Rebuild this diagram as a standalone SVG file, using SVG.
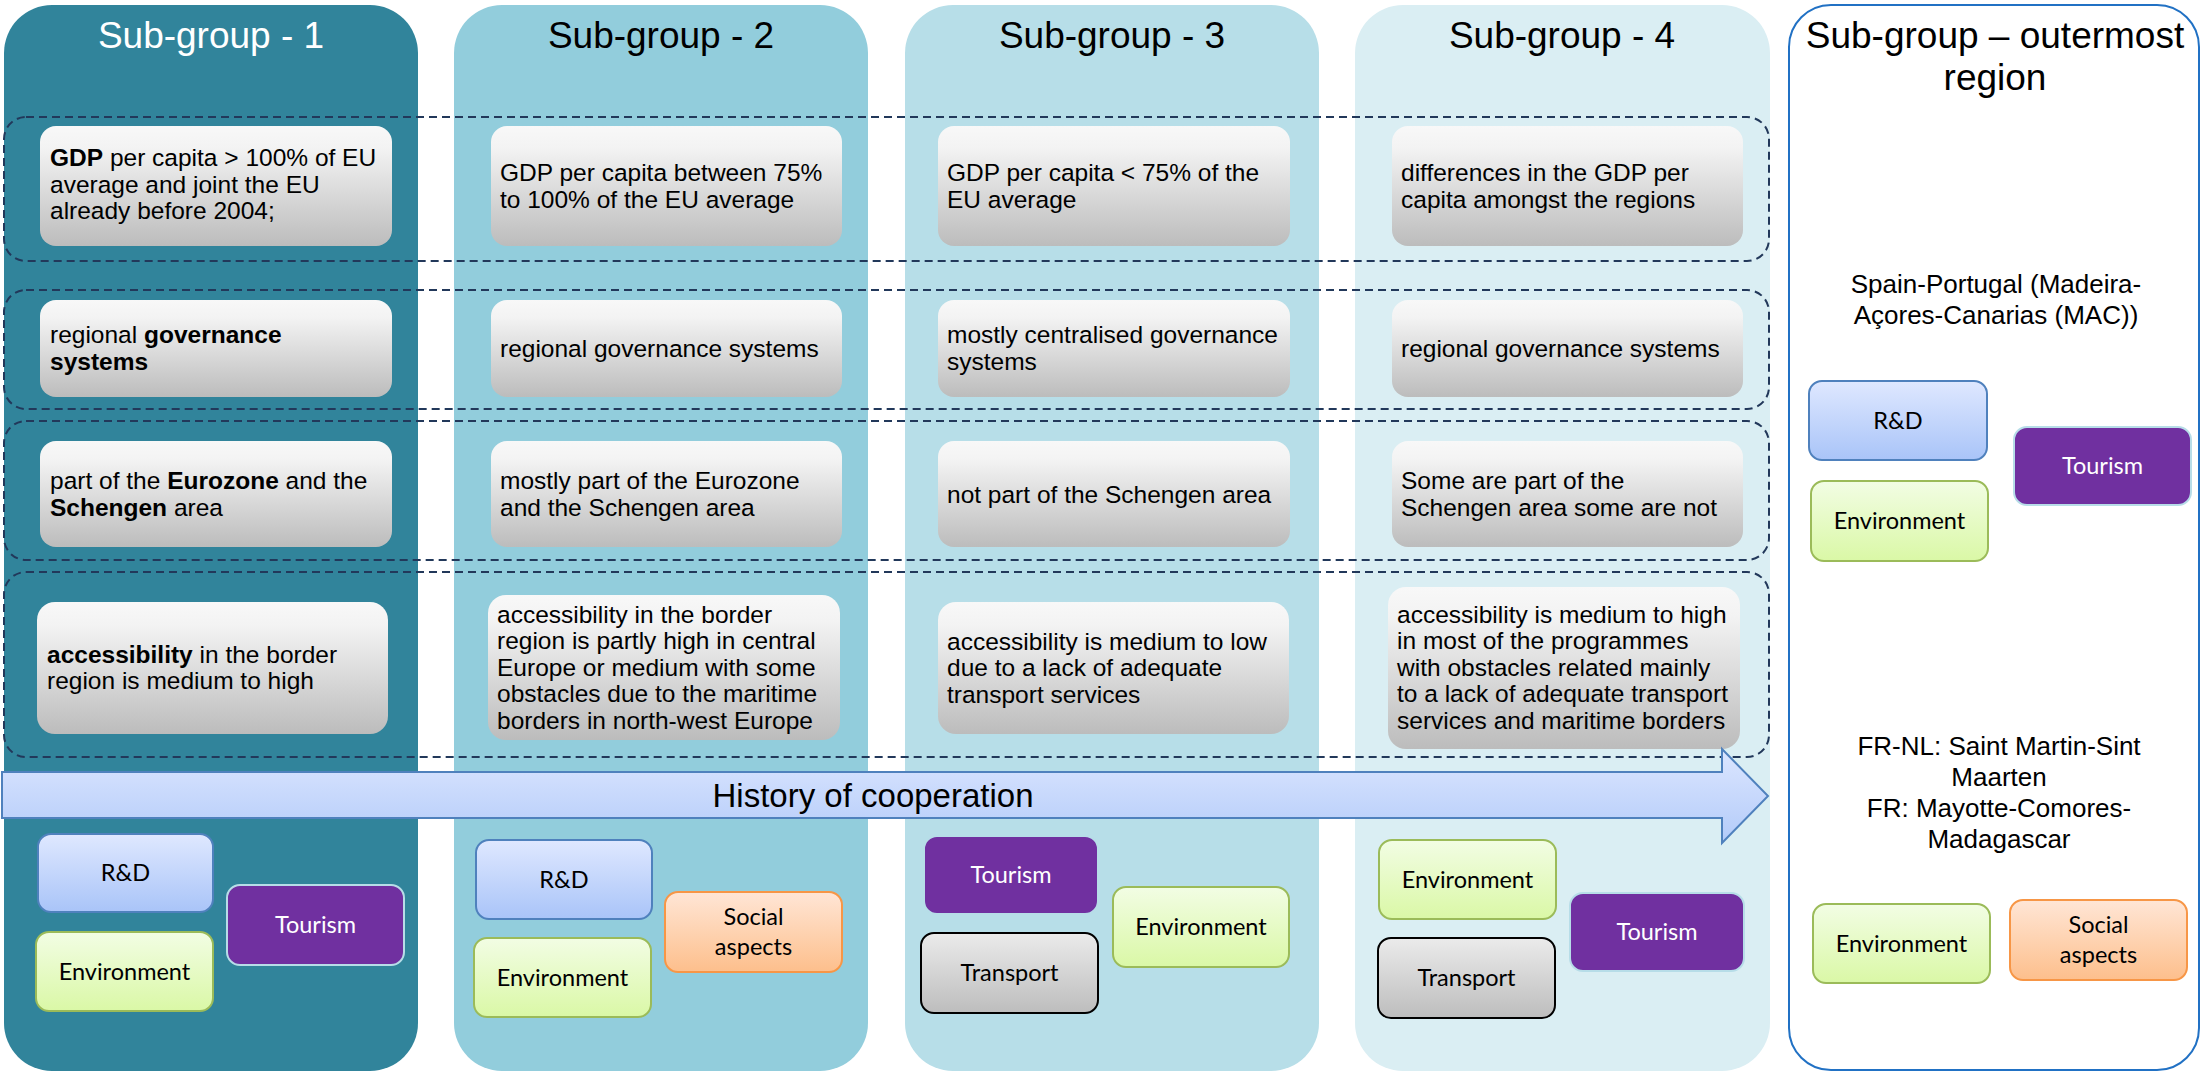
<svg xmlns="http://www.w3.org/2000/svg" width="2201" height="1072" viewBox="0 0 2201 1072">
  <defs>
    <linearGradient id="gGrey" x1="0" y1="0" x2="0" y2="1">
      <stop offset="0" stop-color="#f8f8f8"/>
      <stop offset="0.18" stop-color="#f3f3f3"/>
      <stop offset="1" stop-color="#bcbcbc"/>
    </linearGradient>
    <linearGradient id="gBlue" x1="0" y1="0" x2="0" y2="1">
      <stop offset="0" stop-color="#dfe8ff"/>
      <stop offset="1" stop-color="#a9c4f8"/>
    </linearGradient>
    <linearGradient id="gGreen" x1="0" y1="0" x2="0" y2="1">
      <stop offset="0" stop-color="#f2fde4"/>
      <stop offset="1" stop-color="#daf8a6"/>
    </linearGradient>
    <linearGradient id="gOrange" x1="0" y1="0" x2="0" y2="1">
      <stop offset="0" stop-color="#ffe6d6"/>
      <stop offset="1" stop-color="#fdbf8c"/>
    </linearGradient>
    <linearGradient id="gSilver" x1="0" y1="0" x2="0" y2="1">
      <stop offset="0" stop-color="#ebebeb"/>
      <stop offset="1" stop-color="#bdbdbd"/>
    </linearGradient>
    <linearGradient id="gArrow" x1="0" y1="0" x2="0" y2="1">
      <stop offset="0" stop-color="#dce6ff"/>
      <stop offset="1" stop-color="#b3cbf9"/>
    </linearGradient>
    <style>
      .title { font-family: "Liberation Sans", Arial, sans-serif; font-size: 37px; text-anchor: middle; fill: #000; }
      .title.light { fill: #ffffff; }
      .otitle { font-family: "Liberation Sans", Arial, sans-serif; font-size: 37px; text-anchor: middle; fill: #000; }
      .rowband { fill: none; stroke: #22385a; stroke-width: 2; stroke-dasharray: 8 5; }
      .card { fill: url(#gGrey); }
      .ctext { font-family: "Liberation Sans", Arial, sans-serif; font-size: 24.5px; fill: #000; }
      .b { font-weight: bold; }
      .otext { font-family: "Liberation Sans", Arial, sans-serif; font-size: 26px; fill: #000; text-anchor: middle; }
      .tag { stroke-width: 2; }
      .rd { fill: url(#gBlue); stroke: #4f81bd; }
      .env { fill: url(#gGreen); stroke: #9bbb59; }
      .tour { fill: #7030a0; stroke: #b7dde8; }
      .soc { fill: url(#gOrange); stroke: #f79646; }
      .trans { fill: url(#gSilver); stroke: #000; }
      .ttext { font-family: Lato, "Open Sans", sans-serif; font-size: 23.5px; text-anchor: middle; fill: #000; }
      .ttext.w { fill: #fff; }
      .arrowtext { font-family: "Liberation Sans", Arial, sans-serif; font-size: 33px; text-anchor: middle; fill: #000; }
    </style>
  </defs>

  <rect width="2201" height="1072" fill="#ffffff"/>

  <!-- column backgrounds -->
  <g id="col-1">
    <rect x="4" y="5" width="414" height="1066" rx="48" fill="#31849b"/>
    <text class="title light" x="211" y="48">Sub-group - 1</text>
  </g>
  <g id="col-2">
    <rect x="454" y="5" width="414" height="1066" rx="48" fill="#92cddc"/>
    <text class="title" x="661" y="48">Sub-group - 2</text>
  </g>
  <g id="col-3">
    <rect x="905" y="5" width="414" height="1066" rx="48" fill="#b7dee8"/>
    <text class="title" x="1112" y="48">Sub-group - 3</text>
  </g>
  <g id="col-4">
    <rect x="1355" y="5" width="415" height="1066" rx="48" fill="#daeef3"/>
    <text class="title" x="1562" y="48">Sub-group - 4</text>
  </g>
  <g id="col-outermost">
    <rect x="1789" y="5" width="410" height="1065" rx="42" fill="#ffffff" stroke="#2171c4" stroke-width="2"/>
    <text class="otitle" x="1995" y="48">Sub-group – outermost</text>
    <text class="otitle" x="1995" y="90">region</text>
  </g>

  <!-- dashed criterion bands -->
  <g id="bands">
    <rect id="band-gdp" class="rowband" x="4" y="117" width="1765" height="144" rx="22"/>
    <rect id="band-governance" class="rowband" x="4" y="290" width="1765" height="119" rx="22"/>
    <rect id="band-eurozone" class="rowband" x="4" y="421" width="1765" height="139" rx="22"/>
    <rect id="band-access" class="rowband" x="4" y="572" width="1765" height="185" rx="22"/>
  </g>

  <!-- row 1: GDP -->
  <g id="gdp-1">
    <rect class="card" x="40" y="126" width="352" height="120" rx="16"/>
    <text class="ctext" x="50" y="166"><tspan class="b">GDP</tspan> per capita &gt; 100% of EU</text>
    <text class="ctext" x="50" y="192.5">average and joint the EU</text>
    <text class="ctext" x="50" y="219">already before 2004;</text>
  </g>
  <g id="gdp-2">
    <rect class="card" x="491" y="126" width="351" height="120" rx="16"/>
    <text class="ctext" x="500" y="181">GDP per capita between 75%</text>
    <text class="ctext" x="500" y="207.5">to 100% of the EU average</text>
  </g>
  <g id="gdp-3">
    <rect class="card" x="938" y="126" width="352" height="120" rx="16"/>
    <text class="ctext" x="947" y="181">GDP per capita &lt; 75% of the</text>
    <text class="ctext" x="947" y="207.5">EU average</text>
  </g>
  <g id="gdp-4">
    <rect class="card" x="1392" y="126" width="351" height="120" rx="16"/>
    <text class="ctext" x="1401" y="181">differences in the GDP per</text>
    <text class="ctext" x="1401" y="207.5">capita amongst the regions</text>
  </g>

  <!-- row 2: governance -->
  <g id="gov-1">
    <rect class="card" x="40" y="300" width="352" height="97" rx="16"/>
    <text class="ctext" x="50" y="343">regional <tspan class="b">governance</tspan></text>
    <text class="ctext" x="50" y="369.5"><tspan class="b">systems</tspan></text>
  </g>
  <g id="gov-2">
    <rect class="card" x="491" y="300" width="351" height="97" rx="16"/>
    <text class="ctext" x="500" y="357">regional governance systems</text>
  </g>
  <g id="gov-3">
    <rect class="card" x="938" y="300" width="352" height="97" rx="16"/>
    <text class="ctext" x="947" y="343">mostly centralised governance</text>
    <text class="ctext" x="947" y="369.5">systems</text>
  </g>
  <g id="gov-4">
    <rect class="card" x="1392" y="300" width="351" height="97" rx="16"/>
    <text class="ctext" x="1401" y="357">regional governance systems</text>
  </g>

  <!-- row 3: Eurozone / Schengen -->
  <g id="euro-1">
    <rect class="card" x="40" y="441" width="352" height="106" rx="16"/>
    <text class="ctext" x="50" y="489">part of the <tspan class="b">Eurozone</tspan> and the</text>
    <text class="ctext" x="50" y="515.5"><tspan class="b">Schengen</tspan> area</text>
  </g>
  <g id="euro-2">
    <rect class="card" x="491" y="441" width="351" height="106" rx="16"/>
    <text class="ctext" x="500" y="489">mostly part of the Eurozone</text>
    <text class="ctext" x="500" y="515.5">and the Schengen area</text>
  </g>
  <g id="euro-3">
    <rect class="card" x="938" y="441" width="352" height="106" rx="16"/>
    <text class="ctext" x="947" y="502.5">not part of the Schengen area</text>
  </g>
  <g id="euro-4">
    <rect class="card" x="1392" y="441" width="351" height="106" rx="16"/>
    <text class="ctext" x="1401" y="489">Some are part of the</text>
    <text class="ctext" x="1401" y="515.5">Schengen area some are not</text>
  </g>

  <!-- row 4: accessibility -->
  <g id="access-1">
    <rect class="card" x="37" y="602" width="351" height="132" rx="18"/>
    <text class="ctext" x="47" y="662.5"><tspan class="b">accessibility</tspan> in the border</text>
    <text class="ctext" x="47" y="689">region is medium to high</text>
  </g>
  <g id="access-2">
    <rect class="card" x="488" y="595" width="352" height="145" rx="18"/>
    <text class="ctext" x="497" y="623">accessibility in the border</text>
    <text class="ctext" x="497" y="649.4">region is partly high in central</text>
    <text class="ctext" x="497" y="675.8">Europe or medium with some</text>
    <text class="ctext" x="497" y="702.2">obstacles due to the maritime</text>
    <text class="ctext" x="497" y="728.6">borders in north-west Europe</text>
  </g>
  <g id="access-3">
    <rect class="card" x="938" y="602" width="351" height="132" rx="18"/>
    <text class="ctext" x="947" y="649.5">accessibility is medium to low</text>
    <text class="ctext" x="947" y="676">due to a lack of adequate</text>
    <text class="ctext" x="947" y="702.5">transport services</text>
  </g>
  <g id="access-4">
    <rect class="card" x="1388" y="587" width="352" height="162" rx="18"/>
    <text class="ctext" x="1397" y="623">accessibility is medium to high</text>
    <text class="ctext" x="1397" y="649.4">in most of the programmes</text>
    <text class="ctext" x="1397" y="675.8">with obstacles related mainly</text>
    <text class="ctext" x="1397" y="702.2">to a lack of adequate transport</text>
    <text class="ctext" x="1397" y="728.6">services and maritime borders</text>
  </g>

  <!-- outermost region labels -->
  <g id="mac-label">
    <text class="otext" x="1996" y="293">Spain-Portugal (Madeira-</text>
    <text class="otext" x="1996" y="323.5">Açores-Canarias (MAC))</text>
  </g>
  <g id="fr-label">
    <text class="otext" x="1999" y="755">FR-NL: Saint Martin-Sint</text>
    <text class="otext" x="1999" y="786">Maarten</text>
    <text class="otext" x="1999" y="817">FR: Mayotte-Comores-</text>
    <text class="otext" x="1999" y="848">Madagascar</text>
  </g>

  <!-- history of cooperation block arrow -->
  <g id="history-arrow">
    <path d="M2,772 H1722 V749 L1768,796 L1722,843 V818 H2 Z" fill="url(#gArrow)" stroke="#4f81bd" stroke-width="2" stroke-linejoin="miter"/>
    <text class="arrowtext" x="873" y="807">History of cooperation</text>
  </g>

  <!-- thematic tags: sub-group 1 -->
  <g id="sg1-rd"><rect class="tag rd" x="38" y="834" width="175" height="78" rx="13"/><text class="ttext" x="125.5" y="881">R&amp;D</text></g>
  <g id="sg1-env"><rect class="tag env" x="36" y="932" width="177" height="79" rx="13"/><text class="ttext" x="124.5" y="979.5">Environment</text></g>
  <g id="sg1-tour"><rect class="tag tour" x="227" y="885" width="177" height="80" rx="13"/><text class="ttext w" x="315.5" y="933">Tourism</text></g>

  <!-- thematic tags: sub-group 2 -->
  <g id="sg2-rd"><rect class="tag rd" x="476" y="840" width="176" height="79" rx="13"/><text class="ttext" x="564" y="887.5">R&amp;D</text></g>
  <g id="sg2-env"><rect class="tag env" x="474" y="938" width="177" height="79" rx="13"/><text class="ttext" x="562.5" y="985.5">Environment</text></g>
  <g id="sg2-soc"><rect class="tag soc" x="665" y="892" width="177" height="80" rx="13"/><text class="ttext" x="753.5" y="925">Social</text><text class="ttext" x="753.5" y="955">aspects</text></g>

  <!-- thematic tags: sub-group 3 -->
  <g id="sg3-tour"><rect class="tag tour" x="924" y="836" width="174" height="78" rx="13"/><text class="ttext w" x="1011" y="883">Tourism</text></g>
  <g id="sg3-trans"><rect class="tag trans" x="921" y="933" width="177" height="80" rx="13"/><text class="ttext" x="1009.5" y="981">Transport</text></g>
  <g id="sg3-env"><rect class="tag env" x="1113" y="887" width="176" height="80" rx="13"/><text class="ttext" x="1201" y="935">Environment</text></g>

  <!-- thematic tags: sub-group 4 -->
  <g id="sg4-env"><rect class="tag env" x="1379" y="840" width="177" height="79" rx="13"/><text class="ttext" x="1467.5" y="887.5">Environment</text></g>
  <g id="sg4-trans"><rect class="tag trans" x="1378" y="938" width="177" height="80" rx="13"/><text class="ttext" x="1466.5" y="986">Transport</text></g>
  <g id="sg4-tour"><rect class="tag tour" x="1570" y="893" width="174" height="78" rx="13"/><text class="ttext w" x="1657" y="940">Tourism</text></g>

  <!-- thematic tags: outermost regions -->
  <g id="or-rd"><rect class="tag rd" x="1809" y="381" width="178" height="79" rx="13"/><text class="ttext" x="1898" y="428.5">R&amp;D</text></g>
  <g id="or-env1"><rect class="tag env" x="1811" y="481" width="177" height="80" rx="13"/><text class="ttext" x="1899.5" y="529">Environment</text></g>
  <g id="or-tour"><rect class="tag tour" x="2014" y="427" width="177" height="78" rx="13"/><text class="ttext w" x="2102.5" y="474">Tourism</text></g>
  <g id="or-env2"><rect class="tag env" x="1813" y="904" width="177" height="79" rx="13"/><text class="ttext" x="1901.5" y="951.5">Environment</text></g>
  <g id="or-soc"><rect class="tag soc" x="2010" y="900" width="177" height="80" rx="13"/><text class="ttext" x="2098.5" y="933">Social</text><text class="ttext" x="2098.5" y="963">aspects</text></g>
</svg>
